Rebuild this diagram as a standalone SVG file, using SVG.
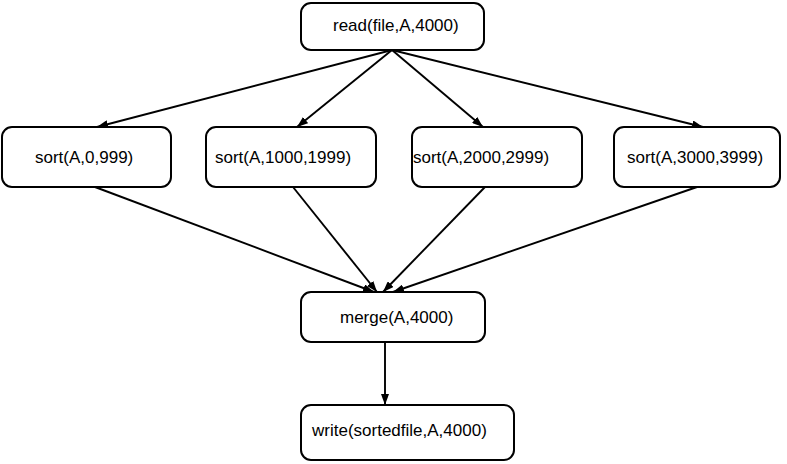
<svg xmlns="http://www.w3.org/2000/svg" width="787" height="464" viewBox="0 0 787 464">
<style>
.n rect{fill:#fff;stroke:#000;stroke-width:2}
.n text{font-family:"Liberation Sans",Arial,sans-serif;font-size:17px;fill:#000}
.e line{stroke:#000;stroke-width:1.9;fill:none}
</style>
<defs>
<marker id="ah" viewBox="0 0 11 8" refX="11" refY="4" markerWidth="11" markerHeight="8" markerUnits="userSpaceOnUse" orient="auto">
<path d="M0,0 L11,4 L0,8 z" fill="#000"/>
</marker>
</defs>
<rect width="787" height="464" fill="#fff"/>
<g class="e">
<line x1="392" y1="50" x2="97" y2="127" marker-end="url(#ah)"/>
<line x1="392" y1="50" x2="297" y2="127" marker-end="url(#ah)"/>
<line x1="392" y1="50" x2="483" y2="127" marker-end="url(#ah)"/>
<line x1="392" y1="50" x2="703" y2="127" marker-end="url(#ah)"/>
<line x1="95" y1="187" x2="374" y2="292" marker-end="url(#ah)"/>
<line x1="293" y1="187" x2="377" y2="292" marker-end="url(#ah)"/>
<line x1="485" y1="187" x2="383" y2="292" marker-end="url(#ah)"/>
<line x1="697" y1="187" x2="393" y2="292" marker-end="url(#ah)"/>
<line x1="385" y1="342" x2="385" y2="405" marker-end="url(#ah)"/>
</g>
<g id="read" class="n"><rect x="301" y="3" width="183" height="47" rx="10"/><text x="333" y="31">read(file,A,4000)</text></g>
<g id="sort1" class="n"><rect x="2" y="127" width="169" height="60" rx="10"/><text x="35" y="163">sort(A,0,999)</text></g>
<g id="sort2" class="n"><rect x="206" y="127" width="170" height="60" rx="10"/><text x="215" y="163">sort(A,1000,1999)</text></g>
<g id="sort3" class="n"><rect x="412" y="127" width="170" height="60" rx="10"/><text x="413" y="163">sort(A,2000,2999)</text></g>
<g id="sort4" class="n"><rect x="614" y="127" width="166" height="60" rx="10"/><text x="627" y="163">sort(A,3000,3999)</text></g>
<g id="merge" class="n"><rect x="301" y="292" width="184" height="50" rx="10"/><text x="340" y="323">merge(A,4000)</text></g>
<g id="write" class="n"><rect x="301" y="405" width="213" height="55" rx="10"/><text x="312" y="436">write(sortedfile,A,4000)</text></g>
</svg>
